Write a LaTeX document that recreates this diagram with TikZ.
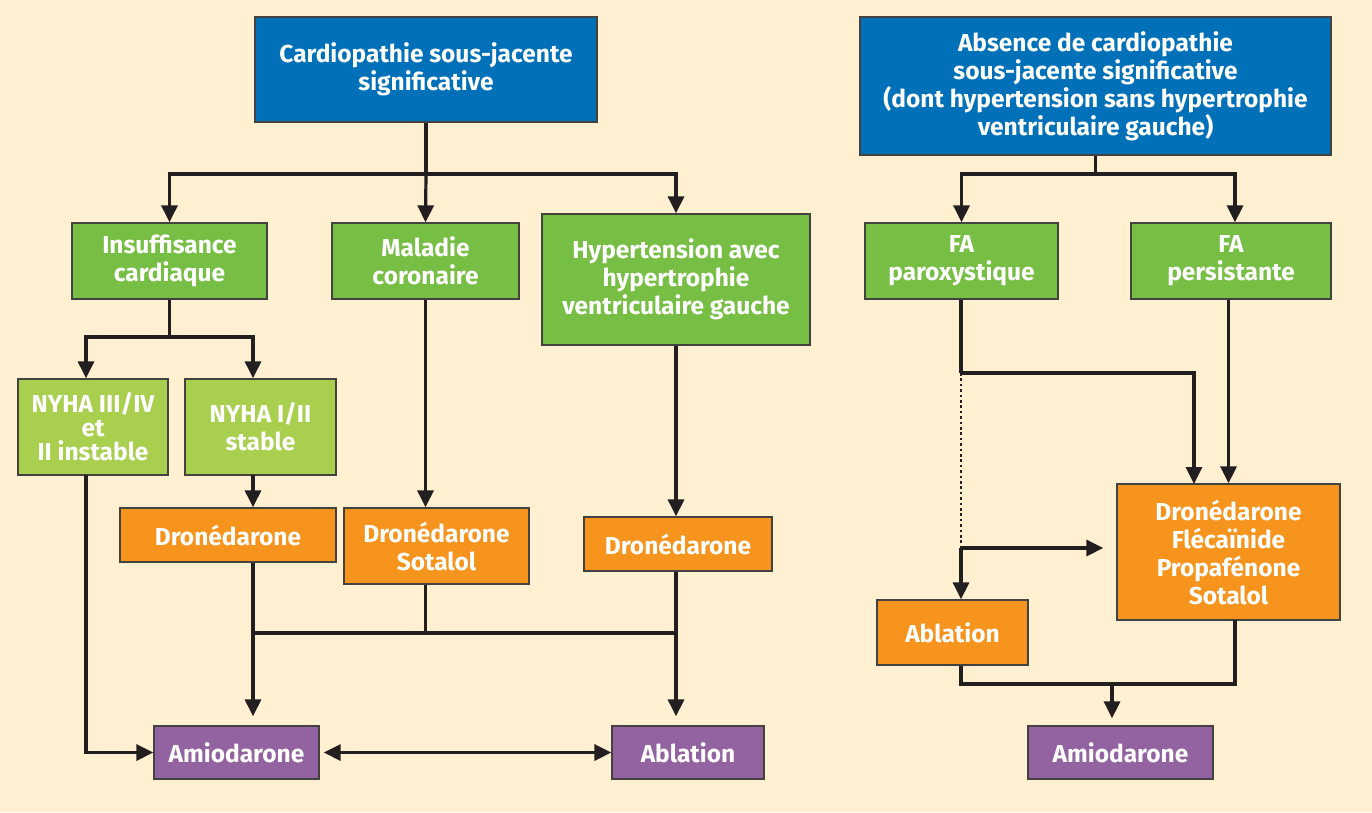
\documentclass[tikz,border=0pt]{standalone}
\usepackage{fontspec}
\setmainfont{Fira Sans}
\usepackage{xcolor}
\usetikzlibrary{positioning, arrows.meta, calc}

\definecolor{bgcream}{HTML}{FFF0D2}
\definecolor{boxblue}{HTML}{0070B9}
\definecolor{boxgreen}{HTML}{77BE45}
\definecolor{boxlight}{HTML}{A9CF4F}
\definecolor{boxorange}{HTML}{F7941D}
\definecolor{boxpurple}{HTML}{9263A0}
\definecolor{linedark}{HTML}{231F20}

\begin{document}
\begin{tikzpicture}[
  x=1pt, y=-1pt,
  every node/.style={font=\bfseries\fontsize{24.5}{28}\selectfont},
  box/.style={draw=linedark!85, line width=1.3pt, text=white, align=center, inner sep=0pt},
  bluebox/.style={box, fill=boxblue},
  greenbox/.style={box, fill=boxgreen},
  lightbox/.style={box, fill=boxlight},
  orangebox/.style={box, fill=boxorange},
  purplebox/.style={box, fill=boxpurple, minimum height=53pt},
  link/.style={line width=3.2pt, draw=linedark},
  arr/.style={link, -{Triangle[length=17pt, width=16pt]}},
  dots/.style={line width=2.8pt, draw=linedark, dash pattern=on 2.6pt off 2.8pt}
]

\useasboundingbox (0,0) rectangle (1372,812);
\fill[bgcream] (0,0) rectangle (1372,812);

% ---- Top level ----
\node[bluebox, minimum width=342pt, minimum height=105pt] (cardio) at (426,69.5)
  {Cardiopathie sous-jacente\\significative};
\node[bluebox, minimum width=471pt, minimum height=138pt] (absence) at (1095.5,86)
  {Absence de cardiopathie\\sous-jacente significative\\(dont hypertension sans hypertrophie\\ventriculaire gauche)};

% ---- Second level ----
\node[greenbox, minimum width=195pt, minimum height=76pt] (insuf) at (169.5,261)
  {Insuffisance\\cardiaque};
\node[greenbox, minimum width=187pt, minimum height=76pt] (coron) at (425.5,261)
  {Maladie\\coronaire};
\node[greenbox, minimum width=268pt, minimum height=131pt] (hyper) at (676,279.5)
  {Hypertension avec\\hypertrophie\\ventriculaire gauche};
\node[greenbox, minimum width=193pt, minimum height=76pt] (parox) at (961.5,261)
  {FA\\paroxystique};
\node[greenbox, minimum width=200pt, minimum height=76pt] (persist) at (1231,261)
  {FA\\persistante};

% ---- NYHA classes ----
\node[lightbox, minimum width=150pt, minimum height=96pt,
      font=\bfseries\fontsize{24.5}{24}\selectfont] (nyhaIII) at (93,427)
  {NYHA III/IV\\et\\II instable};
\node[lightbox, minimum width=151pt, minimum height=96pt] (nyhaI) at (260.5,427)
  {NYHA I/II\\stable};

% ---- Drugs ----
\node[orangebox, minimum width=216pt, minimum height=54pt] (droneA) at (228,535)
  {Dronédarone};
\node[orangebox, minimum width=185pt, minimum height=76pt] (droneSot) at (436.5,546)
  {Dronédarone\\Sotalol};
\node[orangebox, minimum width=188pt, minimum height=54pt] (droneB) at (678,544)
  {Dronédarone};
\node[orangebox, minimum width=223pt, minimum height=136pt] (droneMix) at (1228.5,552)
  {Dronédarone\\Flécaïnide\\Propafénone\\Sotalol};
\node[orangebox, minimum width=151pt, minimum height=65pt] (ablatA) at (952.5,632.5)
  {Ablation};

% ---- Last resort ----
\node[purplebox, minimum width=165pt] (amioL) at (236.5,752.5) {Amiodarone};
\node[purplebox, minimum width=152pt] (ablatB) at (688,752.5) {Ablation};
\node[purplebox, minimum width=185pt] (amioR) at (1120.5,752.5) {Amiodarone};

% ---- Bend points ----
\coordinate (splitL) at (426,174);
\coordinate (splitR) at (1095.5,174);
\coordinate (splitIC) at (169.5,337);
\coordinate (outIII) at (86,475);
\coordinate (outI) at (253,475);
\coordinate (merge) at (253,633);
\coordinate (paroxJ) at (961,373);
\coordinate (paroxK) at (961,548);
\coordinate (mixIn) at (1194,484);
\coordinate (mixOut) at (1235,620);
\coordinate (bottomR) at (1112,684);

% ---- Left tree ----
\draw[link] (cardio.south) -- (splitL);
\draw[arr] (splitL) -| (insuf.north);
\draw[arr] (splitL) -- (coron.north);
\draw[arr] (splitL) -| (hyper.north);

\draw[link] (insuf.south) -- (splitIC);
\draw[arr] (splitIC) -| (outIII |- nyhaIII.north);
\draw[arr] (splitIC) -| (outI |- nyhaI.north);

\draw[arr] (outI) -- (outI |- droneA.north);
\draw[arr] (coron.south) -- (coron.south |- droneSot.north);
\draw[arr] (hyper.south) -- (hyper.south |- droneB.north);

\draw[arr] (outIII) |- (amioL.west);
\draw[arr, shorten >=9pt] (outI |- droneA.south) -- (outI |- amioL.north);
\draw[link] (coron.south |- droneSot.south) -- (coron.south |- merge);
\draw[link] (merge) -- (hyper.south |- merge);
\draw[arr, shorten >=9pt] (droneB.south -| hyper.south) -- (hyper.south |- ablatB.north);
\draw[arr, {Triangle[length=17pt, width=16pt]}-{Triangle[length=17pt, width=16pt]},
      shorten <=4pt] (amioL.east) -- (ablatB.west);

% ---- Right tree ----
\draw[link] (absence.south) -- (splitR);
\draw[arr] (splitR) -| (parox.north);
\draw[arr] (splitR) -| (mixOut |- persist.north);

\draw[link] (paroxJ |- parox.south) -- (paroxJ);
\draw[arr] (paroxJ) -| (mixIn);
\draw[arr] (persist.south -| droneMix.north) -- (droneMix.north);
\draw[dots] (paroxJ) -- (paroxK);
\draw[arr, shorten >=13pt] (paroxK) -- (paroxK -| droneMix.west);
\draw[arr] (paroxK) -- (paroxK |- ablatA.north);

\draw[link] (paroxK |- ablatA.south) |- (bottomR) -| (mixOut);
\draw[arr, shorten >=7pt] (bottomR) -- (bottomR |- amioR.north);

\end{tikzpicture}
\end{document}
